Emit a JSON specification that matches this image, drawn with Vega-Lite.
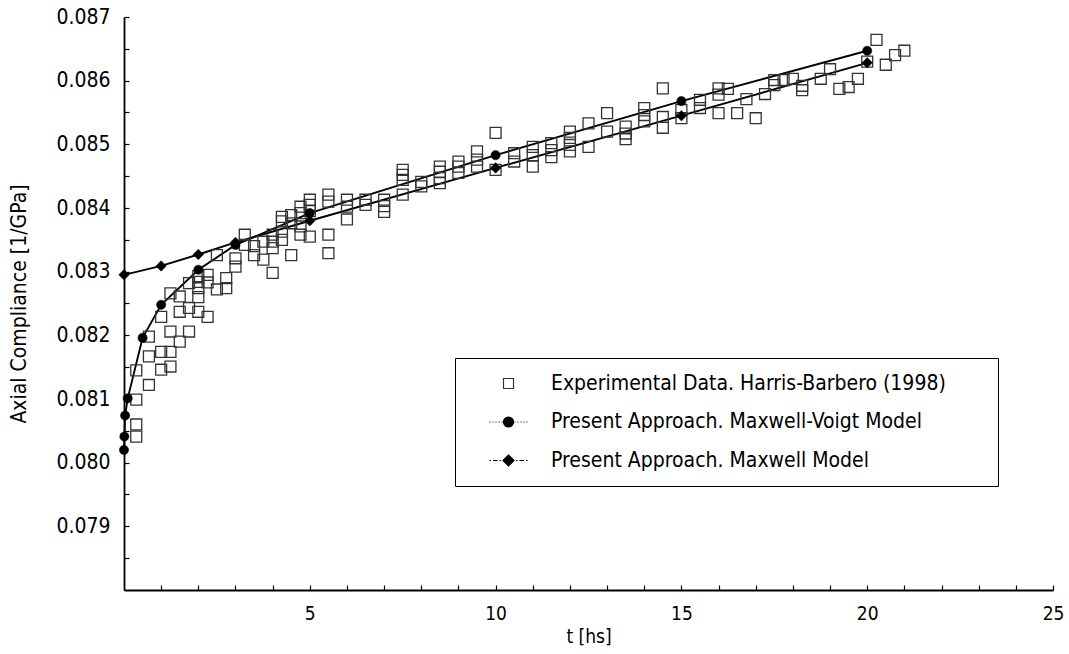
{
  "$schema": "https://vega.github.io/schema/vega-lite/v6.json",
  "width": 929,
  "height": 573,
  "autosize": {"type": "none"},
  "padding": {"left": 124, "top": 17, "right": 16, "bottom": 64},
  "background": "white",
  "data": {"values": [
    {"s": "Experimental Data. Harris-Barbero (1998)", "t": 0.33, "v": 0.08041},
    {"s": "Experimental Data. Harris-Barbero (1998)", "t": 0.33, "v": 0.0806},
    {"s": "Experimental Data. Harris-Barbero (1998)", "t": 0.33, "v": 0.08099},
    {"s": "Experimental Data. Harris-Barbero (1998)", "t": 0.33, "v": 0.08145},
    {"s": "Experimental Data. Harris-Barbero (1998)", "t": 0.67, "v": 0.08122},
    {"s": "Experimental Data. Harris-Barbero (1998)", "t": 0.67, "v": 0.08167},
    {"s": "Experimental Data. Harris-Barbero (1998)", "t": 0.67, "v": 0.08198},
    {"s": "Experimental Data. Harris-Barbero (1998)", "t": 1.0, "v": 0.08146},
    {"s": "Experimental Data. Harris-Barbero (1998)", "t": 1.0, "v": 0.08174},
    {"s": "Experimental Data. Harris-Barbero (1998)", "t": 1.0, "v": 0.08229},
    {"s": "Experimental Data. Harris-Barbero (1998)", "t": 1.25, "v": 0.08151},
    {"s": "Experimental Data. Harris-Barbero (1998)", "t": 1.25, "v": 0.08174},
    {"s": "Experimental Data. Harris-Barbero (1998)", "t": 1.25, "v": 0.08206},
    {"s": "Experimental Data. Harris-Barbero (1998)", "t": 1.25, "v": 0.08266},
    {"s": "Experimental Data. Harris-Barbero (1998)", "t": 1.5, "v": 0.0819},
    {"s": "Experimental Data. Harris-Barbero (1998)", "t": 1.5, "v": 0.08237},
    {"s": "Experimental Data. Harris-Barbero (1998)", "t": 1.5, "v": 0.08261},
    {"s": "Experimental Data. Harris-Barbero (1998)", "t": 1.75, "v": 0.08206},
    {"s": "Experimental Data. Harris-Barbero (1998)", "t": 1.75, "v": 0.08243},
    {"s": "Experimental Data. Harris-Barbero (1998)", "t": 1.75, "v": 0.08282},
    {"s": "Experimental Data. Harris-Barbero (1998)", "t": 2.0, "v": 0.08237},
    {"s": "Experimental Data. Harris-Barbero (1998)", "t": 2.0, "v": 0.0826},
    {"s": "Experimental Data. Harris-Barbero (1998)", "t": 2.0, "v": 0.08274},
    {"s": "Experimental Data. Harris-Barbero (1998)", "t": 2.0, "v": 0.08284},
    {"s": "Experimental Data. Harris-Barbero (1998)", "t": 2.0, "v": 0.08293},
    {"s": "Experimental Data. Harris-Barbero (1998)", "t": 2.25, "v": 0.08229},
    {"s": "Experimental Data. Harris-Barbero (1998)", "t": 2.25, "v": 0.08283},
    {"s": "Experimental Data. Harris-Barbero (1998)", "t": 2.25, "v": 0.08295},
    {"s": "Experimental Data. Harris-Barbero (1998)", "t": 2.5, "v": 0.08272},
    {"s": "Experimental Data. Harris-Barbero (1998)", "t": 2.5, "v": 0.08326},
    {"s": "Experimental Data. Harris-Barbero (1998)", "t": 2.75, "v": 0.08274},
    {"s": "Experimental Data. Harris-Barbero (1998)", "t": 2.75, "v": 0.0829},
    {"s": "Experimental Data. Harris-Barbero (1998)", "t": 3.0, "v": 0.08308},
    {"s": "Experimental Data. Harris-Barbero (1998)", "t": 3.0, "v": 0.08321},
    {"s": "Experimental Data. Harris-Barbero (1998)", "t": 3.25, "v": 0.08342},
    {"s": "Experimental Data. Harris-Barbero (1998)", "t": 3.25, "v": 0.08358},
    {"s": "Experimental Data. Harris-Barbero (1998)", "t": 3.5, "v": 0.08326},
    {"s": "Experimental Data. Harris-Barbero (1998)", "t": 3.5, "v": 0.0834},
    {"s": "Experimental Data. Harris-Barbero (1998)", "t": 3.75, "v": 0.08319},
    {"s": "Experimental Data. Harris-Barbero (1998)", "t": 3.75, "v": 0.08347},
    {"s": "Experimental Data. Harris-Barbero (1998)", "t": 4.0, "v": 0.08298},
    {"s": "Experimental Data. Harris-Barbero (1998)", "t": 4.0, "v": 0.08337},
    {"s": "Experimental Data. Harris-Barbero (1998)", "t": 4.0, "v": 0.08347},
    {"s": "Experimental Data. Harris-Barbero (1998)", "t": 4.0, "v": 0.08358},
    {"s": "Experimental Data. Harris-Barbero (1998)", "t": 4.25, "v": 0.0835},
    {"s": "Experimental Data. Harris-Barbero (1998)", "t": 4.25, "v": 0.08363},
    {"s": "Experimental Data. Harris-Barbero (1998)", "t": 4.25, "v": 0.08379},
    {"s": "Experimental Data. Harris-Barbero (1998)", "t": 4.25, "v": 0.08386},
    {"s": "Experimental Data. Harris-Barbero (1998)", "t": 4.5, "v": 0.08326},
    {"s": "Experimental Data. Harris-Barbero (1998)", "t": 4.5, "v": 0.08376},
    {"s": "Experimental Data. Harris-Barbero (1998)", "t": 4.5, "v": 0.08389},
    {"s": "Experimental Data. Harris-Barbero (1998)", "t": 4.75, "v": 0.08358},
    {"s": "Experimental Data. Harris-Barbero (1998)", "t": 4.75, "v": 0.08371},
    {"s": "Experimental Data. Harris-Barbero (1998)", "t": 4.75, "v": 0.08392},
    {"s": "Experimental Data. Harris-Barbero (1998)", "t": 4.75, "v": 0.08402},
    {"s": "Experimental Data. Harris-Barbero (1998)", "t": 5.0, "v": 0.08355},
    {"s": "Experimental Data. Harris-Barbero (1998)", "t": 5.0, "v": 0.08395},
    {"s": "Experimental Data. Harris-Barbero (1998)", "t": 5.0, "v": 0.08405},
    {"s": "Experimental Data. Harris-Barbero (1998)", "t": 5.0, "v": 0.08413},
    {"s": "Experimental Data. Harris-Barbero (1998)", "t": 5.5, "v": 0.08329},
    {"s": "Experimental Data. Harris-Barbero (1998)", "t": 5.5, "v": 0.08358},
    {"s": "Experimental Data. Harris-Barbero (1998)", "t": 5.5, "v": 0.0841},
    {"s": "Experimental Data. Harris-Barbero (1998)", "t": 5.5, "v": 0.08421},
    {"s": "Experimental Data. Harris-Barbero (1998)", "t": 6.0, "v": 0.08382},
    {"s": "Experimental Data. Harris-Barbero (1998)", "t": 6.0, "v": 0.08402},
    {"s": "Experimental Data. Harris-Barbero (1998)", "t": 6.0, "v": 0.08413},
    {"s": "Experimental Data. Harris-Barbero (1998)", "t": 6.5, "v": 0.08405},
    {"s": "Experimental Data. Harris-Barbero (1998)", "t": 6.5, "v": 0.08413},
    {"s": "Experimental Data. Harris-Barbero (1998)", "t": 7.0, "v": 0.08394},
    {"s": "Experimental Data. Harris-Barbero (1998)", "t": 7.0, "v": 0.08403},
    {"s": "Experimental Data. Harris-Barbero (1998)", "t": 7.0, "v": 0.08413},
    {"s": "Experimental Data. Harris-Barbero (1998)", "t": 7.5, "v": 0.08421},
    {"s": "Experimental Data. Harris-Barbero (1998)", "t": 7.5, "v": 0.08444},
    {"s": "Experimental Data. Harris-Barbero (1998)", "t": 7.5, "v": 0.08452},
    {"s": "Experimental Data. Harris-Barbero (1998)", "t": 7.5, "v": 0.0846},
    {"s": "Experimental Data. Harris-Barbero (1998)", "t": 8.0, "v": 0.08434},
    {"s": "Experimental Data. Harris-Barbero (1998)", "t": 8.0, "v": 0.08441},
    {"s": "Experimental Data. Harris-Barbero (1998)", "t": 8.5, "v": 0.08439},
    {"s": "Experimental Data. Harris-Barbero (1998)", "t": 8.5, "v": 0.08447},
    {"s": "Experimental Data. Harris-Barbero (1998)", "t": 8.5, "v": 0.08457},
    {"s": "Experimental Data. Harris-Barbero (1998)", "t": 8.5, "v": 0.08465},
    {"s": "Experimental Data. Harris-Barbero (1998)", "t": 9.0, "v": 0.08455},
    {"s": "Experimental Data. Harris-Barbero (1998)", "t": 9.0, "v": 0.08465},
    {"s": "Experimental Data. Harris-Barbero (1998)", "t": 9.0, "v": 0.08473},
    {"s": "Experimental Data. Harris-Barbero (1998)", "t": 9.5, "v": 0.08465},
    {"s": "Experimental Data. Harris-Barbero (1998)", "t": 9.5, "v": 0.08476},
    {"s": "Experimental Data. Harris-Barbero (1998)", "t": 9.5, "v": 0.08489},
    {"s": "Experimental Data. Harris-Barbero (1998)", "t": 10.0, "v": 0.0846},
    {"s": "Experimental Data. Harris-Barbero (1998)", "t": 10.0, "v": 0.08518},
    {"s": "Experimental Data. Harris-Barbero (1998)", "t": 10.5, "v": 0.08473},
    {"s": "Experimental Data. Harris-Barbero (1998)", "t": 10.5, "v": 0.08486},
    {"s": "Experimental Data. Harris-Barbero (1998)", "t": 11.0, "v": 0.08465},
    {"s": "Experimental Data. Harris-Barbero (1998)", "t": 11.0, "v": 0.08483},
    {"s": "Experimental Data. Harris-Barbero (1998)", "t": 11.0, "v": 0.08496},
    {"s": "Experimental Data. Harris-Barbero (1998)", "t": 11.5, "v": 0.0848},
    {"s": "Experimental Data. Harris-Barbero (1998)", "t": 11.5, "v": 0.08491},
    {"s": "Experimental Data. Harris-Barbero (1998)", "t": 11.5, "v": 0.08502},
    {"s": "Experimental Data. Harris-Barbero (1998)", "t": 12.0, "v": 0.08489},
    {"s": "Experimental Data. Harris-Barbero (1998)", "t": 12.0, "v": 0.08499},
    {"s": "Experimental Data. Harris-Barbero (1998)", "t": 12.0, "v": 0.0851},
    {"s": "Experimental Data. Harris-Barbero (1998)", "t": 12.0, "v": 0.0852},
    {"s": "Experimental Data. Harris-Barbero (1998)", "t": 12.5, "v": 0.08496},
    {"s": "Experimental Data. Harris-Barbero (1998)", "t": 12.5, "v": 0.08533},
    {"s": "Experimental Data. Harris-Barbero (1998)", "t": 13.0, "v": 0.0852},
    {"s": "Experimental Data. Harris-Barbero (1998)", "t": 13.0, "v": 0.08549},
    {"s": "Experimental Data. Harris-Barbero (1998)", "t": 13.5, "v": 0.08508},
    {"s": "Experimental Data. Harris-Barbero (1998)", "t": 13.5, "v": 0.08517},
    {"s": "Experimental Data. Harris-Barbero (1998)", "t": 13.5, "v": 0.08528},
    {"s": "Experimental Data. Harris-Barbero (1998)", "t": 14.0, "v": 0.08536},
    {"s": "Experimental Data. Harris-Barbero (1998)", "t": 14.0, "v": 0.08546},
    {"s": "Experimental Data. Harris-Barbero (1998)", "t": 14.0, "v": 0.08557},
    {"s": "Experimental Data. Harris-Barbero (1998)", "t": 14.5, "v": 0.08526},
    {"s": "Experimental Data. Harris-Barbero (1998)", "t": 14.5, "v": 0.08543},
    {"s": "Experimental Data. Harris-Barbero (1998)", "t": 14.5, "v": 0.08588},
    {"s": "Experimental Data. Harris-Barbero (1998)", "t": 15.0, "v": 0.08541},
    {"s": "Experimental Data. Harris-Barbero (1998)", "t": 15.0, "v": 0.08554},
    {"s": "Experimental Data. Harris-Barbero (1998)", "t": 15.5, "v": 0.08557},
    {"s": "Experimental Data. Harris-Barbero (1998)", "t": 15.5, "v": 0.0857},
    {"s": "Experimental Data. Harris-Barbero (1998)", "t": 16.0, "v": 0.08549},
    {"s": "Experimental Data. Harris-Barbero (1998)", "t": 16.0, "v": 0.08578},
    {"s": "Experimental Data. Harris-Barbero (1998)", "t": 16.0, "v": 0.08588},
    {"s": "Experimental Data. Harris-Barbero (1998)", "t": 16.25, "v": 0.08587},
    {"s": "Experimental Data. Harris-Barbero (1998)", "t": 16.5, "v": 0.08549},
    {"s": "Experimental Data. Harris-Barbero (1998)", "t": 16.75, "v": 0.08571},
    {"s": "Experimental Data. Harris-Barbero (1998)", "t": 17.0, "v": 0.08541},
    {"s": "Experimental Data. Harris-Barbero (1998)", "t": 17.25, "v": 0.08579},
    {"s": "Experimental Data. Harris-Barbero (1998)", "t": 17.5, "v": 0.08593},
    {"s": "Experimental Data. Harris-Barbero (1998)", "t": 17.5, "v": 0.08601},
    {"s": "Experimental Data. Harris-Barbero (1998)", "t": 17.75, "v": 0.08601},
    {"s": "Experimental Data. Harris-Barbero (1998)", "t": 18.0, "v": 0.08603},
    {"s": "Experimental Data. Harris-Barbero (1998)", "t": 18.25, "v": 0.08585},
    {"s": "Experimental Data. Harris-Barbero (1998)", "t": 18.25, "v": 0.08592},
    {"s": "Experimental Data. Harris-Barbero (1998)", "t": 18.75, "v": 0.08603},
    {"s": "Experimental Data. Harris-Barbero (1998)", "t": 19.0, "v": 0.08618},
    {"s": "Experimental Data. Harris-Barbero (1998)", "t": 19.25, "v": 0.08587},
    {"s": "Experimental Data. Harris-Barbero (1998)", "t": 19.5, "v": 0.0859},
    {"s": "Experimental Data. Harris-Barbero (1998)", "t": 19.75, "v": 0.08603},
    {"s": "Experimental Data. Harris-Barbero (1998)", "t": 20.0, "v": 0.0863},
    {"s": "Experimental Data. Harris-Barbero (1998)", "t": 20.25, "v": 0.08664},
    {"s": "Experimental Data. Harris-Barbero (1998)", "t": 20.5, "v": 0.08625},
    {"s": "Experimental Data. Harris-Barbero (1998)", "t": 20.75, "v": 0.0864},
    {"s": "Experimental Data. Harris-Barbero (1998)", "t": 21.0, "v": 0.08647},
    {"s": "Present Approach. Maxwell-Voigt Model", "t": 0, "v": 0.0802},
    {"s": "Present Approach. Maxwell-Voigt Model", "t": 0.01, "v": 0.08041},
    {"s": "Present Approach. Maxwell-Voigt Model", "t": 0.03, "v": 0.08074},
    {"s": "Present Approach. Maxwell-Voigt Model", "t": 0.1, "v": 0.08101},
    {"s": "Present Approach. Maxwell-Voigt Model", "t": 0.5, "v": 0.08196},
    {"s": "Present Approach. Maxwell-Voigt Model", "t": 1, "v": 0.08248},
    {"s": "Present Approach. Maxwell-Voigt Model", "t": 2, "v": 0.08303},
    {"s": "Present Approach. Maxwell-Voigt Model", "t": 3, "v": 0.08342},
    {"s": "Present Approach. Maxwell-Voigt Model", "t": 5, "v": 0.08392},
    {"s": "Present Approach. Maxwell-Voigt Model", "t": 10, "v": 0.08483},
    {"s": "Present Approach. Maxwell-Voigt Model", "t": 15, "v": 0.08568},
    {"s": "Present Approach. Maxwell-Voigt Model", "t": 20, "v": 0.08647},
    {"s": "Present Approach. Maxwell Model", "t": 0, "v": 0.08295},
    {"s": "Present Approach. Maxwell Model", "t": 1, "v": 0.08309},
    {"s": "Present Approach. Maxwell Model", "t": 2, "v": 0.08327},
    {"s": "Present Approach. Maxwell Model", "t": 3, "v": 0.08346},
    {"s": "Present Approach. Maxwell Model", "t": 5, "v": 0.0838},
    {"s": "Present Approach. Maxwell Model", "t": 10, "v": 0.08463},
    {"s": "Present Approach. Maxwell Model", "t": 15, "v": 0.08545},
    {"s": "Present Approach. Maxwell Model", "t": 20, "v": 0.08628}
  ]},
  "encoding": {
    "x": {
      "field": "t", "type": "quantitative",
      "scale": {"domain": [0, 25], "nice": false, "zero": false},
      "axis": {
        "title": "t [hs]",
        "values": [1,2,3,4,5,6,7,8,9,10,11,12,13,14,15,16,17,18,19,20,21,22,23,24,25],
        "labelExpr": "datum.value % 5 == 0 ? datum.label : ''",
        "labelPadding": 19,
        "titlePadding": 4,
        "labelFontSize": 19,
        "labelFlush": false,
        "labelOverlap": false,
        "labelBound": false
      }
    },
    "y": {
      "field": "v", "type": "quantitative",
      "scale": {"domain": [0.078, 0.087], "nice": false, "zero": false},
      "axis": {
        "title": "Axial Compliance [1/GPa]",
        "values": [0.0785, 0.079, 0.0795, 0.08, 0.0805, 0.081, 0.0815, 0.082, 0.0825, 0.083, 0.0835, 0.084, 0.0845, 0.085, 0.0855, 0.086, 0.0865, 0.087],
        "labelExpr": "round(datum.value * 10000) % 10 == 0 ? format(datum.value, '.3f') : ''",
        "labelPadding": 19,
        "titlePadding": 26,
        "labelFontSize": 21,
        "titleFontSize": 21,
        "labelFlush": false,
        "labelOverlap": false,
        "labelBound": false
      }
    }
  },
  "layer": [
    {
      "transform": [{"filter": "datum.s == 'Present Approach. Maxwell-Voigt Model'"}],
      "mark": {"type": "line", "color": "black", "strokeWidth": 1.9}
    },
    {
      "transform": [{"filter": "datum.s == 'Present Approach. Maxwell Model'"}],
      "mark": {"type": "line", "color": "black", "strokeWidth": 1.9}
    },
    {
      "transform": [{"filter": "datum.s == 'Experimental Data. Harris-Barbero (1998)'"}],
      "mark": {"type": "point", "shape": "square", "filled": false, "stroke": "#333333", "strokeWidth": 1.3, "size": 120, "opacity": 1}
    },
    {
      "transform": [{"filter": "datum.s == 'Present Approach. Maxwell-Voigt Model'"}],
      "mark": {"type": "point", "shape": "circle", "filled": true, "fill": "black", "stroke": "black", "strokeWidth": 0.5, "size": 85, "opacity": 1}
    },
    {
      "transform": [{"filter": "datum.s == 'Present Approach. Maxwell Model'"}],
      "mark": {"type": "point", "shape": "diamond", "filled": true, "fill": "black", "stroke": "black", "strokeWidth": 0.5, "size": 110, "opacity": 1}
    },
    {
      "mark": {"type": "point", "filled": true, "opacity": 0, "strokeWidth": 1.2},
      "encoding": {
        "shape": {
          "field": "s", "type": "nominal",
          "scale": {
            "domain": ["Experimental Data. Harris-Barbero (1998)", "Present Approach. Maxwell-Voigt Model", "Present Approach. Maxwell Model"],
            "range": [
              "M-1,-1L1,-1L1,1L-1,1Z",
              "M-3.8,0L-3.6,0M-3.2,0L-3,0M-2.6,0L-2.4,0M-2,0L-1.8,0M-1.4,0L-1.2,0M1.2,0L1.4,0M1.8,0L2,0M2.4,0L2.6,0M3,0L3.2,0M3.6,0L3.8,0M-1,0A1,1,0,1,1,1,0A1,1,0,1,1,-1,0Z",
              "M-3.8,0L-3.5,0M-3.1,0L-2.2,0M-1.8,0L-1.5,0M1.5,0L1.8,0M2.2,0L3.1,0M3.5,0L3.8,0M0,-1.1L1.1,0L0,1.1L-1.1,0Z"
            ]
          },
          "legend": {
            "title": "\u00a0", "titleOrient": "right", "titlePadding": 37,
            "orient": "none", "legendX": 331, "legendY": 341
          }
        },
        "fill": {
          "field": "s", "type": "nominal",
          "scale": {
            "domain": ["Experimental Data. Harris-Barbero (1998)", "Present Approach. Maxwell-Voigt Model", "Present Approach. Maxwell Model"],
            "range": ["white", "black", "black"]
          },
          "legend": {
            "title": "\u00a0", "titleOrient": "right", "titlePadding": 37,
            "orient": "none", "legendX": 331, "legendY": 341
          }
        },
        "stroke": {
          "field": "s", "type": "nominal",
          "scale": {
            "domain": ["Experimental Data. Harris-Barbero (1998)", "Present Approach. Maxwell-Voigt Model", "Present Approach. Maxwell Model"],
            "range": ["#333333", "black", "black"]
          },
          "legend": {
            "title": "\u00a0", "titleOrient": "right", "titlePadding": 37,
            "orient": "none", "legendX": 331, "legendY": 341
          }
        }
      }
    }
  ],
  "config": {
    "view": {"stroke": null},
    "font": "DejaVu Sans Condensed",
    "axis": {
      "domainColor": "black",
      "domainWidth": 1.8,
      "tickColor": "black",
      "tickWidth": 1.2,
      "tickSize": -5,
      "grid": false,
      "labelColor": "black",
      "labelFont": "DejaVu Sans Condensed",
      "titleFont": "DejaVu Sans Condensed",
      "titleFontSize": 19,
      "titleFontWeight": "normal",
      "titleColor": "black"
    },
    "legend": {
      "strokeColor": "black",
      "padding": 15,
      "symbolOffset": 28,
      "labelOffset": 32,
      "rowPadding": 16.5,
      "symbolSize": 100,
      "symbolStrokeWidth": 1.2,
      "symbolOpacity": 1,
      "labelFont": "DejaVu Sans Condensed",
      "labelFontSize": 21,
      "labelLimit": 700,
      "labelColor": "black",
      "titleFontSize": 11
    }
  }
}
